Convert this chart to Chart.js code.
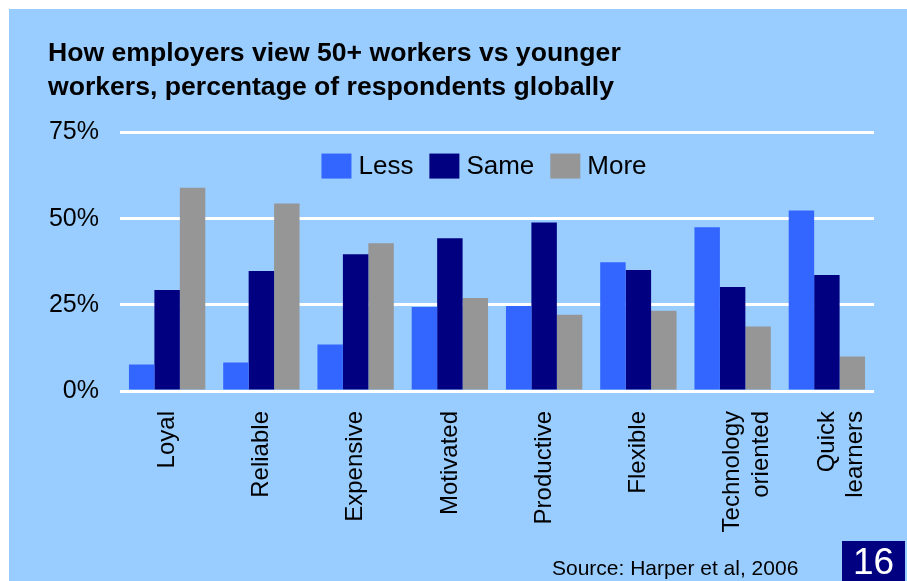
<!DOCTYPE html>
<html>
<head>
<meta charset="utf-8">
<script src="https://cdn.jsdelivr.net/npm/chart.js@4.4.1/dist/chart.umd.min.js"></script>
<style>
  body { margin: 0; background: #fff; font-family: "Liberation Sans", Arial, sans-serif; }
  #panel { position: absolute; left: 9px; top: 9px; width: 898px; height: 572px; background: #99ccff; }
  #source { position: absolute; left: 552px; top: 556px; font-size: 21px; color: #000; white-space: nowrap; }
  #page { position: absolute; left: 842px; top: 541px; width: 63px; height: 40px; background: #000080;
          color: #fff; font-size: 37px; line-height: 42px; text-align: center; }
</style>
</head>
<body>
<div id="panel"><canvas id="chart" width="898" height="572"></canvas></div>
<div id="source">Source: Harper et al, 2006</div>
<div id="page">16</div>
<script>
const categories = ['Loyal', 'Reliable', 'Expensive', 'Motivated', 'Productive', 'Flexible',
  ['Technology', 'oriented'], ['Quick', 'learners']];
const less = [7.7, 8.3, 13.5, 24.4, 24.7, 37.4, 47.5, 52.4];
const same = [29.3, 34.8, 39.7, 44.3, 48.9, 35.1, 30.2, 33.7];
const more = [59.0, 54.4, 42.9, 27.0, 22.1, 23.3, 18.7, 10.0];
const yTicks = [0, 25, 50, 75];

const font = '"Liberation Sans", Arial, sans-serif';

// legend sits inside the plot, between the 75% and 50% lines
const insideLegend = {
  id: 'insideLegend',
  afterDraw(chart) {
    const c = chart.ctx;
    const area = chart.chartArea;
    const box = 30, boxH = 25, gapText = 7, gapItem = 16;
    c.save();
    c.font = '26px ' + font;
    const items = chart.data.datasets.map(ds => ({ text: ds.label, color: ds.backgroundColor, w: c.measureText(ds.label).width }));
    let total = 0;
    items.forEach((it, i) => { total += box + gapText + it.w + (i < items.length - 1 ? gapItem : 0); });
    let x = (area.left + area.right) / 2 - 13 - total / 2;
    const top = area.top + 21;
    c.textBaseline = 'middle';
    c.textAlign = 'left';
    items.forEach(it => {
      c.fillStyle = it.color;
      c.fillRect(x, top, box, boxH);
      x += box + gapText;
      c.fillStyle = '#000';
      c.fillText(it.text, x, top + boxH / 2 + 1);
      x += it.w + gapItem;
    });
    c.restore();
  }
};

const ctx = document.getElementById('chart').getContext('2d');
const myChart = new Chart(ctx, {
  type: 'bar',
  data: {
    labels: categories,
    datasets: [
      { label: 'Less', data: less, backgroundColor: '#3366ff' },
      { label: 'Same', data: same, backgroundColor: '#000080' },
      { label: 'More', data: more, backgroundColor: '#969696' }
    ]
  },
  options: {
    responsive: false,
    animation: false,
    layout: { padding: { left: 39, right: 33, top: 0, bottom: 0 } },
    datasets: { bar: { categoryPercentage: 0.81, barPercentage: 1.0 } },
    plugins: {
      title: {
        display: true,
        align: 'start',
        text: ['How employers view 50+ workers vs younger', 'workers, percentage of respondents globally'],
        color: '#000',
        font: { family: font, size: 26.6, weight: 'bold', lineHeight: 1.27 },
        padding: { top: 28, bottom: 28 }
      },
      legend: { display: false },
      tooltip: { enabled: false }
    },
    scales: {
      x: {
        grid: { display: false },
        border: { display: false },
        ticks: {
          color: '#000',
          font: { family: font, size: 24 },
          minRotation: 90,
          maxRotation: 90,
          autoSkip: false,
          padding: 12
        },
        afterFit: (scale) => { scale.height = 190; }
      },
      y: {
        min: 0,
        max: 75,
        afterBuildTicks: (scale) => { scale.ticks = yTicks.map(v => ({ value: v })); },
        grid: { color: '#ffffff', lineWidth: 3, drawTicks: false },
        border: { display: false },
        ticks: {
          color: '#000',
          font: { family: font, size: 25 },
          padding: 21,
          callback: (v) => v + '%'
        },
        afterFit: (scale) => { scale.width = 72; }
      }
    }
  },
  plugins: [insideLegend]
});
</script>
</body>
</html>
